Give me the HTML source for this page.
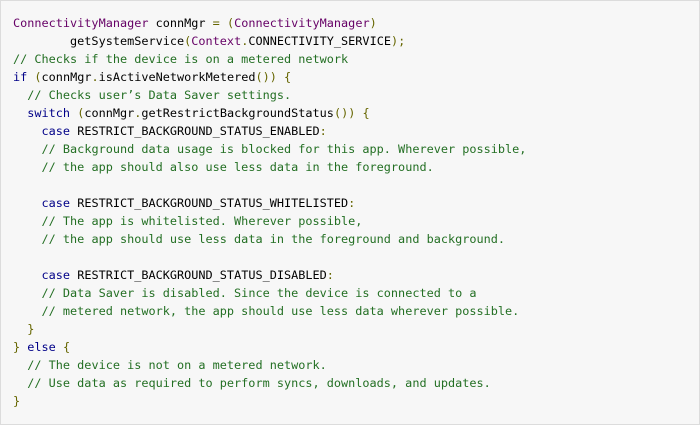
<!DOCTYPE html>
<html><head><meta charset="utf-8"><style>
html,body{margin:0;padding:0;background:#fff;width:700px;height:425px;overflow:hidden}
.box{position:absolute;left:0;top:0;width:698px;height:423px;background:#f7f7f7;border:1px solid #dcdcdc}
pre{margin:0;position:absolute;left:13px;top:14px;font-family:"DejaVu Sans Mono","Liberation Mono",monospace;font-size:11.85px;line-height:18px;color:#000}
.t{color:#660066}.k{color:#000088}.c{color:#236f23}.p{color:#666600}
</style></head><body><div class="box"></div>
<pre><span class="t">ConnectivityManager</span> connMgr <span class="p">=</span> <span class="p">(</span><span class="t">ConnectivityManager</span><span class="p">)</span>
        getSystemService<span class="p">(</span><span class="t">Context</span><span class="p">.</span>CONNECTIVITY_SERVICE<span class="p">);</span>
<span class="c">// Checks if the device is on a metered network</span>
<span class="k">if</span> <span class="p">(</span>connMgr<span class="p">.</span>isActiveNetworkMetered<span class="p">())</span> <span class="p">{</span>
  <span class="c">// Checks user’s Data Saver settings.</span>
  <span class="k">switch</span> <span class="p">(</span>connMgr<span class="p">.</span>getRestrictBackgroundStatus<span class="p">())</span> <span class="p">{</span>
    <span class="k">case</span> RESTRICT_BACKGROUND_STATUS_ENABLED<span class="p">:</span>
    <span class="c">// Background data usage is blocked for this app. Wherever possible,</span>
    <span class="c">// the app should also use less data in the foreground.</span>

    <span class="k">case</span> RESTRICT_BACKGROUND_STATUS_WHITELISTED<span class="p">:</span>
    <span class="c">// The app is whitelisted. Wherever possible,</span>
    <span class="c">// the app should use less data in the foreground and background.</span>

    <span class="k">case</span> RESTRICT_BACKGROUND_STATUS_DISABLED<span class="p">:</span>
    <span class="c">// Data Saver is disabled. Since the device is connected to a</span>
    <span class="c">// metered network, the app should use less data wherever possible.</span>
  <span class="p">}</span>
<span class="p">}</span> <span class="k">else</span> <span class="p">{</span>
  <span class="c">// The device is not on a metered network.</span>
  <span class="c">// Use data as required to perform syncs, downloads, and updates.</span>
<span class="p">}</span></pre>
</body></html>
